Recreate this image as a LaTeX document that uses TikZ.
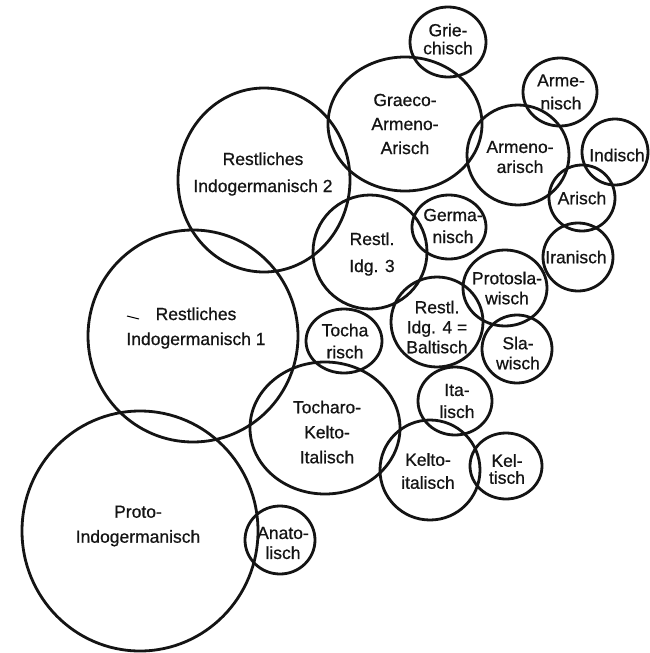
\documentclass[tikz,border=0pt]{standalone}
\usepackage{fontspec}
\setmainfont{Liberation Sans}
\newfontfamily\lblfont{Liberation Sans}[FakeBold=0.7]
\usetikzlibrary{shapes.geometric}
\tikzset{
  ring/.style={draw=black!92, line width=2.8pt, ellipse, inner sep=0pt},
  lbl/.style={align=center, inner sep=0pt, text=black!92, font=\lblfont\fontsize{17.5}{#1}\selectfont},
  lbl/.default=21
}
\begin{document}
\begin{tikzpicture}[x=1pt,y=-1pt]
\useasboundingbox (0,0) rectangle (650,653);
\fill[white] (0,0) rectangle (650,653);
% rings
\node[ring, minimum width=236pt, minimum height=240pt] (proto) at (140,531) {};
\node[ring, minimum width=70pt, minimum height=68pt] (anat) at (280,540) {};
\node[ring, minimum width=210pt, minimum height=212pt] (ri1) at (193,336) {};
\node[ring, minimum width=172pt, minimum height=184pt] (ri2) at (264,180) {};
\node[ring, minimum width=154pt, minimum height=134pt] (graeco) at (405,124) {};
\node[ring, minimum width=76pt, minimum height=70pt] (griech) at (448,42) {};
\node[ring, minimum width=74pt, minimum height=68pt] (armen) at (560,92) {};
\node[ring, minimum width=102pt, minimum height=100pt] (armar) at (518,155) {};
\node[ring, minimum width=66pt, minimum height=66pt] (ind) at (615,152) {};
\node[ring, minimum width=66pt, minimum height=66pt] (ari) at (582,198) {};
\node[ring, minimum width=70pt, minimum height=68pt] (iran) at (578,257) {};
\node[ring, minimum width=114pt, minimum height=114pt] (ri3) at (370,252) {};
\node[ring, minimum width=74pt, minimum height=64pt] (germ) at (449,227) {};
\node[ring, minimum width=84pt, minimum height=76pt] (psl) at (505,288) {};
\node[ring, minimum width=92pt, minimum height=90pt] (ri4) at (437,322) {};
\node[ring, minimum width=70pt, minimum height=68pt] (slaw) at (517,349) {};
\node[ring, minimum width=76pt, minimum height=64pt] (toch) at (344,341) {};
\node[ring, minimum width=74pt, minimum height=68pt] (ital) at (455,401) {};
\node[ring, minimum width=150pt, minimum height=132pt] (tki) at (325,428) {};
\node[ring, minimum width=100pt, minimum height=100pt] (kit) at (430,470) {};
\node[ring, minimum width=72pt, minimum height=66pt] (kelt) at (506,466) {};
% labels
\node[lbl=25] (tproto) at (138,526) {Proto-\\Indogermanisch};
\node[lbl=20] (tanat) at (283,543) {Anato-\\lisch};
\node[lbl=25] (tri1) at (196,328) {Restliches\\Indogermanisch 1};
\node[lbl=27] (tri2) at (263,174) {Restliches\\Indogermanisch 2};
\node[lbl=24] (tgraeco) at (405,124) {Graeco-\\Armeno-\\Arisch};
\node[lbl=18] (tgriech) at (448,39) {Grie-\\chisch};
\node[lbl=23] (tarmen) at (561,92) {Arme-\\nisch};
\node[lbl=20] (tarmar) at (520,157) {Armeno-\\arisch};
\node[lbl] (tind) at (617,155) {Indisch};
\node[lbl] (tari) at (582,198) {Arisch};
\node[lbl] (tiran) at (576,257) {Iranisch};
\node[lbl=27] (tri3) at (372,254) {Restl.\\Idg. 3};
\node[lbl=22] (tgerm) at (453,226) {Germa-\\nisch};
\node[lbl=20] (tpsl) at (507,288) {Protosla-\\wisch};
\node[lbl=20] (tri4) at (437,327) {Restl.\\Idg. 4 =\\Baltisch};
\node[lbl=20] (tslaw) at (518,353) {Sla-\\wisch};
\node[lbl=22] (ttoch) at (345,341) {Tocha\\risch};
\node[lbl=22] (tital) at (457,401) {Ita-\\lisch};
\node[lbl=25] (ttki) at (327,432) {Tocharo-\\Kelto-\\Italisch};
\node[lbl=23] (tkit) at (428,471) {Kelto-\\italisch};
\node[lbl=17] (tkelt) at (507,469) {Kel-\\tisch};
% small stray mark
\coordinate (m1) at (127,316);
\coordinate (m2) at (139,319);
\draw[line width=1pt] (m1) -- (m2);
\end{tikzpicture}
\end{document}
